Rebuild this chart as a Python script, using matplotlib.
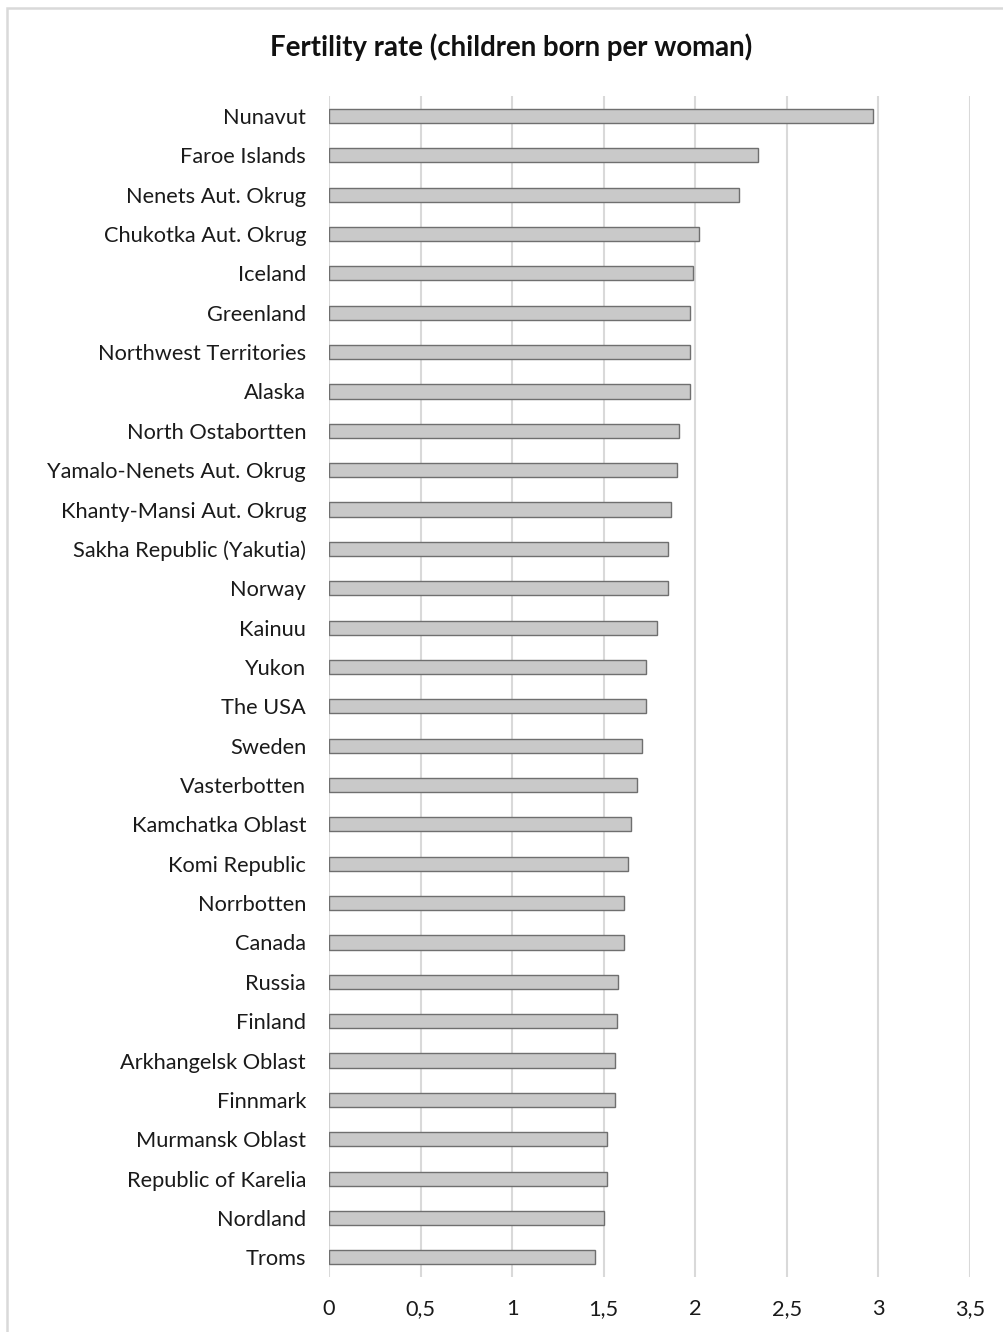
import numpy as np
import matplotlib
matplotlib.use("Agg")
import matplotlib.pyplot as plt
from matplotlib.patches import Rectangle

# data, top to bottom as in the chart
regions = ["Nunavut", "Faroe Islands", "Nenets Aut. Okrug", "Chukotka Aut. Okrug",
           "Iceland", "Greenland", "Northwest Territories", "Alaska",
           "North Ostabortten", "Yamalo-Nenets Aut. Okrug", "Khanty-Mansi Aut. Okrug",
           "Sakha Republic (Yakutia)", "Norway", "Kainuu", "Yukon", "The USA",
           "Sweden", "Vasterbotten", "Kamchatka Oblast", "Komi Republic",
           "Norrbotten", "Canada", "Russia", "Finland", "Arkhangelsk Oblast",
           "Finnmark", "Murmansk Oblast", "Republic of Karelia", "Nordland", "Troms"]
fertility = [2.97, 2.34, 2.24, 2.02, 1.99, 1.97, 1.97, 1.97, 1.91, 1.90, 1.87,
             1.85, 1.85, 1.79, 1.73, 1.73, 1.71, 1.68, 1.65, 1.63, 1.61, 1.61,
             1.58, 1.57, 1.56, 1.56, 1.52, 1.52, 1.50, 1.45]
xticks = [0, 0.5, 1, 1.5, 2, 2.5, 3, 3.5]
xtick_labels = ["0", "0,5", "1", "1,5", "2", "2,5", "3", "3,5"]

plt.rcParams['font.family'] = ['Lato', 'DejaVu Sans']

W, H = 1004, 1332
fig = plt.figure(figsize=(W / 100, H / 100), dpi=100)

# outer chart border (light gray, runs off the right/bottom edge)
fig.patches.append(Rectangle((7.5 / W, -0.05), 1.2, 1 - 8 / H + 0.05,
                             transform=fig.transFigure, fill=False,
                             edgecolor="#d9d9d9", lw=1.8))

ax = fig.add_axes([329 / W, 1 - 1277 / H, (970 - 329) / W, (1277 - 96.3) / H])

y = np.arange(len(regions))
ax.barh(y, fertility, height=0.36, color="#c9c9c9", edgecolor="#6f6f6f", lw=1.0, zorder=3)

ax.set_ylim(len(regions) - 0.5, -0.5)
ax.set_xlim(0, 3.5)
ax.set_yticks(y)
ax.set_yticklabels(regions, fontsize=15.7, color="#1a1a1a")
ax.set_xticks(xticks)
ax.set_xticklabels(xtick_labels, fontsize=15.7, color="#1a1a1a")
ax.tick_params(axis="y", length=0, pad=16.5)
ax.tick_params(axis="x", length=0, pad=16)
ax.grid(axis="x", color="#d9d9d9", lw=1.5, zorder=0)
for s in ax.spines.values():
    s.set_visible(False)

fig.text(511 / W, 1 - 47 / H, "Fertility rate (children born per woman)",
         ha="center", va="center", fontsize=19.9, fontweight="bold", color="#111111")

fig.savefig("out.png", dpi=100, facecolor="white")
